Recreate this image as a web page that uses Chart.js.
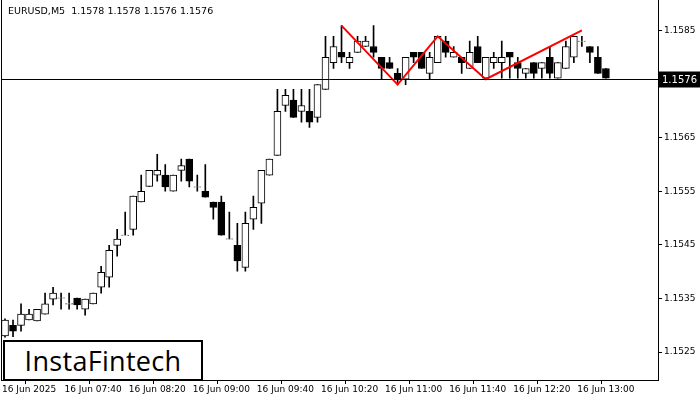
<!DOCTYPE html>
<html><head><meta charset="utf-8">
<script src="https://cdn.jsdelivr.net/npm/chart.js@4.4.1/dist/chart.umd.min.js"></script>
<style>
body{margin:0;background:#fff;font-family:"DejaVu Sans",sans-serif}
#wrap{position:relative;width:700px;height:400px}
#title{position:absolute;left:8px;top:5px;font-size:9.5px;color:#000}
#logo{position:absolute;left:3px;top:340px;width:196px;height:37px;border:2px solid #000;background:#fff;font-family:"Open Sans",sans-serif;font-size:27px;line-height:37px;text-align:center;color:#000;letter-spacing:0.3px}
</style></head><body>
<div id="wrap"><canvas id="c" width="700" height="400"></canvas>
<div id="title">EURUSD,M5&nbsp;&nbsp;1.1578 1.1578 1.1576 1.1576</div>
<div id="logo">InstaFintech</div></div>
<script>
const openP=[1.15280,1.15300,1.15300,1.15310,1.15308,1.15321,1.15349,1.15351,1.15340,1.15351,1.15330,1.15340,1.15371,1.15390,1.15449,1.15468,1.15479,1.15530,1.15559,1.15580,1.15580,1.15550,1.15589,1.15610,1.15558,1.15550,1.15530,1.15530,1.15461,1.15449,1.15408,1.15498,1.15528,1.15580,1.15617,1.15710,1.15720,1.15699,1.15699,1.15688,1.15740,1.15790,1.15809,1.15790,1.15809,1.15820,1.15820,1.15800,1.15790,1.15770,1.15759,1.15809,1.15809,1.15770,1.15790,1.15830,1.15800,1.15800,1.15779,1.15820,1.15761,1.15790,1.15790,1.15809,1.15790,1.15770,1.15790,1.15779,1.15800,1.15761,1.15779,1.15800,1.15830,1.15820,1.15800,1.15779];
const highP=[1.15312,1.15310,1.15340,1.15330,1.15330,1.15360,1.15371,1.15360,1.15360,1.15351,1.15349,1.15360,1.15410,1.15449,1.15479,1.15511,1.15541,1.15580,1.15589,1.15619,1.15600,1.15580,1.15610,1.15610,1.15580,1.15600,1.15530,1.15541,1.15511,1.15490,1.15511,1.15541,1.15589,1.15610,1.15740,1.15740,1.15740,1.15740,1.15740,1.15749,1.15839,1.15839,1.15859,1.15809,1.15839,1.15839,1.15859,1.15800,1.15800,1.15779,1.15800,1.15809,1.15809,1.15809,1.15839,1.15839,1.15820,1.15800,1.15830,1.15839,1.15800,1.15809,1.15830,1.15809,1.15800,1.15779,1.15790,1.15790,1.15820,1.15790,1.15830,1.15839,1.15839,1.15820,1.15820,1.15779];
const lowP=[1.15278,1.15279,1.15289,1.15310,1.15308,1.15321,1.15338,1.15330,1.15330,1.15330,1.15319,1.15340,1.15360,1.15371,1.15429,1.15468,1.15468,1.15530,1.15559,1.15569,1.15550,1.15550,1.15569,1.15558,1.15550,1.15539,1.15498,1.15468,1.15461,1.15401,1.15401,1.15479,1.15490,1.15580,1.15617,1.15699,1.15688,1.15679,1.15669,1.15679,1.15740,1.15779,1.15790,1.15779,1.15809,1.15820,1.15800,1.15759,1.15779,1.15749,1.15749,1.15790,1.15779,1.15759,1.15790,1.15800,1.15800,1.15770,1.15779,1.15790,1.15761,1.15779,1.15761,1.15761,1.15761,1.15761,1.15761,1.15761,1.15761,1.15761,1.15779,1.15790,1.15820,1.15790,1.15770,1.15761];
const closeP=[1.15310,1.15289,1.15321,1.15321,1.15330,1.15340,1.15360,1.15351,1.15340,1.15338,1.15349,1.15360,1.15399,1.15440,1.15461,1.15468,1.15541,1.15550,1.15589,1.15589,1.15558,1.15580,1.15598,1.15569,1.15558,1.15539,1.15520,1.15468,1.15461,1.15420,1.15490,1.15520,1.15589,1.15610,1.15699,1.15729,1.15688,1.15710,1.15679,1.15749,1.15800,1.15820,1.15800,1.15800,1.15830,1.15830,1.15809,1.15779,1.15779,1.15759,1.15800,1.15800,1.15779,1.15800,1.15839,1.15809,1.15809,1.15790,1.15809,1.15790,1.15800,1.15800,1.15800,1.15800,1.15779,1.15779,1.15770,1.15790,1.15770,1.15790,1.15820,1.15839,1.15830,1.15809,1.15770,1.15761];
const patternIdx=[42,49,54,60,72];
const patternVal=[1.15859,1.15749,1.15839,1.15759,1.15850];
const yTicks=[1.1525,1.1535,1.1545,1.1555,1.1565,1.1575,1.1585];
const currentPrice=1.1576;
const emptySlots=6;

const labels=[];
for(let i=0;i<openP.length+emptySlots;i++){const m=6*60+45+5*i;labels.push(String(Math.floor(m/60)).padStart(2,'0')+':'+String(m%60).padStart(2,'0'));}
const wicks=lowP.map((l,i)=>[l,highP[i]]);
const bodies=openP.map((o,i)=>{const c=closeP[i];return o===c?[o-0.000004,o+0.000004]:[Math.min(o,c),Math.max(o,c)];});
const bodyColors=openP.map((o,i)=>closeP[i]<o?'#000':'#fff');
const pattern=labels.map(()=>null);patternIdx.forEach((k,j)=>pattern[k]=patternVal[j]);

const overlay={id:'ov',afterDatasetsDraw(ch){const {ctx,chartArea:a,scales:{y}}=ch;const py=Math.round(y.getPixelForValue(currentPrice))+0.5;
ctx.save();ctx.strokeStyle='#000';ctx.lineWidth=1;ctx.beginPath();ctx.moveTo(a.left,py);ctx.lineTo(a.right,py);ctx.stroke();
ctx.beginPath();ctx.moveTo(a.left+0.5,0);ctx.lineTo(a.left+0.5,a.bottom);ctx.stroke();
ctx.beginPath();ctx.moveTo(a.right+0.5,0);ctx.lineTo(a.right+0.5,a.top);ctx.stroke();
ctx.fillStyle='#000';ctx.fillRect(a.right,py-8,42,16);ctx.fillStyle='#fff';ctx.font='10px "DejaVu Sans"';ctx.textBaseline='middle';ctx.fillText(currentPrice.toFixed(4),a.right+4,py+1);ctx.restore();}};

new Chart(document.getElementById('c'),{
data:{labels,datasets:[
{type:'line',data:pattern,borderColor:'#ff0000',borderWidth:2,pointRadius:0,spanGaps:true,order:0},
{type:'bar',data:wicks,backgroundColor:'#000',barThickness:1,grouped:false,order:2},
{type:'bar',data:bodies,backgroundColor:bodyColors,borderColor:'#000',borderWidth:1,borderSkipped:false,barThickness:7,grouped:false,order:1}
]},
plugins:[overlay],
options:{responsive:false,animation:false,devicePixelRatio:1,
layout:{padding:{left:1,top:0,right:0,bottom:0}},
plugins:{legend:{display:false},tooltip:{enabled:false}},
scales:{
x:{offset:true,grid:{display:true,drawOnChartArea:false,tickLength:4,color:(c)=>((c.index-3)%8===0?'#000':'rgba(0,0,0,0)')},border:{color:'#000'},
ticks:{autoSkip:false,maxRotation:0,padding:0,color:'#000',font:{size:9,family:'DejaVu Sans'},callback:(v,i)=>((i-3)%8===0&&i<openP.length)?(i===3?'16 Jun 2025':'16 Jun '+labels[i]):''},
afterFit:(s)=>{s.height=20;}},
y:{position:'right',min:1.15198,max:1.15893,grid:{drawOnChartArea:false,tickLength:4,color:'#000'},border:{color:'#000'},
afterBuildTicks:(s)=>{s.ticks=yTicks.map(v=>({value:v}));},
ticks:{color:'#000',padding:2,font:{size:9,family:'DejaVu Sans'},callback:(v)=>Number(v).toFixed(4)},
afterFit:(s)=>{s.width=42;}}
}}});
</script></body></html>
